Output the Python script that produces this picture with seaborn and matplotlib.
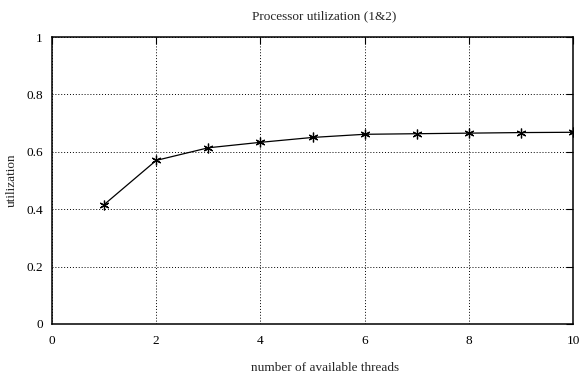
import matplotlib
matplotlib.use("Agg")
import matplotlib.pyplot as plt
import seaborn as sns
import pandas as pd

threads = [1, 2, 3, 4, 5, 6, 7, 8, 9, 10]
utilization = [0.416, 0.570, 0.614, 0.633, 0.650, 0.661, 0.663, 0.665, 0.667, 0.668]
x_ticks = [0, 2, 4, 6, 8, 10]
y_ticks = [0, 0.2, 0.4, 0.6, 0.8, 1]
y_tick_labels = ["0", "0.2", "0.4", "0.6", "0.8", "1"]

sns.set_style("white")
plt.rcParams['font.family'] = ['Liberation Serif', 'DejaVu Serif']

df = pd.DataFrame({"threads": threads, "utilization": utilization})

W, H = 580, 377
fig = plt.figure(figsize=(5.8, 3.77), dpi=100)
L, R, T, B = 52, 573, 37, 324
ax = fig.add_axes([L / W, 1 - B / H, (R - L) / W, (B - T) / H])

sns.lineplot(data=df, x="threads", y="utilization", ax=ax, color="black",
             linewidth=0.9, marker=(6, 2, 0), markersize=7, markeredgewidth=0.9,
             markeredgecolor="black")

ax.set_xlim(0, 10)
ax.set_ylim(0, 1)
ax.set_xticks(x_ticks)
ax.set_xticklabels([str(t) for t in x_ticks])
ax.set_yticks(y_ticks)
ax.set_yticklabels(y_tick_labels)
ax.grid(True, linestyle=(0, (1, 2)), color="black", linewidth=0.7)
for s in ax.spines.values():
    s.set_color("black")
    s.set_linewidth(1.1)
ax.tick_params(direction="in", length=5, width=0.8, top=True, right=True,
               labelsize=9.5, colors="black")
ax.tick_params(axis="x", pad=8)
ax.tick_params(axis="y", pad=6.5)
ax.set_xlabel("")
ax.set_ylabel("utilization", fontsize=9.5)
ax.yaxis.set_label_coords((18 - L) / (R - L), 0.5)

fig.text(324 / W, 1 - 19 / H, "Processor utilization (1&2)", fontsize=9.5,
         ha="center", va="baseline")
fig.text(325 / W, 1 - 371 / H, "number of available threads", fontsize=9.5,
         ha="center", va="baseline")

fig.savefig("out.png", dpi=100)
